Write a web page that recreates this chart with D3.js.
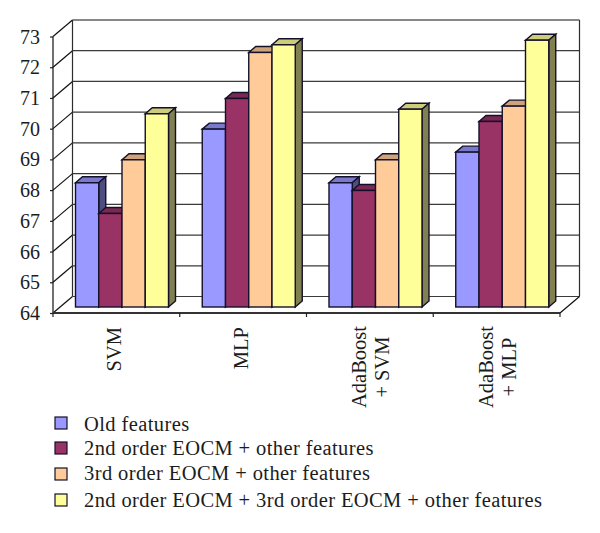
<!DOCTYPE html>
<html><head><meta charset="utf-8">
<script src="https://cdn.jsdelivr.net/npm/d3@7"></script>
<style>
html,body{margin:0;padding:0;background:#fff}
svg{display:block}
text{font-family:"Liberation Serif",serif;fill:#1c1c1c}
.yaxis path{display:none}
.yaxis line{stroke:#222;stroke-width:1.2}
.yaxis text{font-size:20px;fill:#1c1c1c}
</style></head><body>
<svg id="c" width="600" height="533"></svg>
<script>
const categories=[["SVM"],["MLP"],["AdaBoost","+ SVM"],["AdaBoost","+ MLP"]];
const categoryIds=["SVM","MLP","AdaBoost + SVM","AdaBoost + MLP"];
const seriesNames=["Old features","2nd order EOCM + other features","3rd order EOCM + other features","2nd order EOCM + 3rd order EOCM + other features"];
const oldFeatures=[68.05,69.8,68.05,69.05];
const eocm2=[67.05,70.8,67.8,70.05];
const eocm3=[68.8,72.3,68.8,70.55];
const eocm23=[70.3,72.55,70.45,72.7];
const seriesValues=[oldFeatures,eocm2,eocm3,eocm23];
const yTicks=[64,65,66,67,68,69,70,71,72,73];
const fronts=["#9999ff","#993366","#ffcc99","#ffff99"];
const tops=["#7a7acc","#7a2952","#cca37a","#cccc7a"];
const sides=["#4d4d80","#4d1a33","#806650","#808050"];

const svg=d3.select("#c");
const wallDx=19.5,wallDy=-16.5,barDx=7,barDy=-6;
const y=d3.scaleLinear().domain([64,73]).range([313,36.5]);
const yBar=d3.scaleLinear().domain([64,73]).range([307,31]);
const x0=d3.scaleBand().domain(categoryIds).range([53,560]);
const x1=d3.scaleBand().domain(d3.range(4)).range([22.5,115.5]);
const L=53,R=560,B=y(64),T=y(73);

// walls and floor
const grid=svg.append("g").attr("fill","none").attr("stroke","#2c2c2c").attr("stroke-width",1.2);
yTicks.forEach(t=>{
  grid.append("line").attr("x1",L).attr("y1",y(t)).attr("x2",L+wallDx).attr("y2",y(t)+wallDy).attr("stroke","#111");
  grid.append("line").attr("x1",L+wallDx).attr("y1",y(t)+wallDy).attr("x2",R+wallDx).attr("y2",y(t)+wallDy)
      .attr("stroke",t===73?"#111":"#3a3a3a");
});
grid.append("line").attr("x1",L+wallDx).attr("y1",T+wallDy).attr("x2",L+wallDx).attr("y2",B+wallDy);
grid.append("line").attr("x1",R+wallDx).attr("y1",T+wallDy).attr("x2",R+wallDx).attr("y2",B+wallDy);
grid.append("line").attr("x1",R).attr("y1",B).attr("x2",R+wallDx).attr("y2",B+wallDy).attr("stroke","#111");

// bars
categoryIds.forEach((c,ci)=>{
  seriesValues.forEach((vals,si)=>{
    const v=vals[ci],xa=x0(c)+x1(si),xb=xa+x1.bandwidth(),yt=yBar(v),yb=yBar(64);
    const g=svg.append("g").attr("stroke","#14102a").attr("stroke-width",1.4).attr("stroke-linejoin","miter");
    g.append("path").attr("fill",tops[si])
     .attr("d",`M${xa},${yt}L${xa+barDx},${yt+barDy}L${xb+barDx},${yt+barDy}L${xb},${yt}Z`);
    g.append("path").attr("fill",sides[si])
     .attr("d",`M${xb},${yt}L${xb+barDx},${yt+barDy}L${xb+barDx},${yb+barDy}L${xb},${yb}Z`);
    g.append("rect").attr("x",xa).attr("y",yt).attr("width",xb-xa).attr("height",yb-yt).attr("fill",fronts[si]);
  });
});

// y axis
const ya=svg.append("g").attr("class","yaxis").attr("transform",`translate(${L},0)`)
  .call(d3.axisLeft(y).tickValues(yTicks).tickSize(3).tickPadding(10).tickFormat(d3.format("d")));
ya.selectAll("text").attr("dy","0.33em").style("font-family",'"Liberation Serif",serif');
svg.append("line").attr("x1",L).attr("x2",L).attr("y1",T).attr("y2",B).attr("stroke","#111").attr("stroke-width",1.2);

// x axis
svg.append("line").attr("x1",L).attr("x2",R).attr("y1",B).attr("y2",B).attr("stroke","#333").attr("stroke-width",1.8);
[...categoryIds.map(c=>x0(c)),R].forEach(px=>{
  svg.append("line").attr("x1",px).attr("x2",px).attr("y1",B).attr("y2",B+4).attr("stroke","#222").attr("stroke-width",1.2);
});
categories.forEach((lines,i)=>{
  const cx=x0(categoryIds[i])+x0.bandwidth()/2;
  const top=327, blockHalf=lines.length>1?40:0;
  lines.forEach((s,j)=>{
    const bx=lines.length>1?cx-4+j*23:cx+5;
    svg.append("text").attr("transform",`translate(${bx},${top+blockHalf}) rotate(-90)`)
      .attr("text-anchor",lines.length>1?"middle":"end").attr("font-size",20.5).text(s);
  });
});

// legend
const legY=[417,442,468,494],legB=[431,455,479.5,506.5];
seriesNames.forEach((s,i)=>{
  svg.append("rect").attr("x",55).attr("y",legY[i]).attr("width",12).attr("height",12)
    .attr("fill",fronts[i]).attr("stroke","#14102a").attr("stroke-width",1.2);
  svg.append("text").attr("x",84).attr("y",legB[i]).attr("font-size",20.5).attr("letter-spacing",0.4).text(s);
});
</script></body></html>
